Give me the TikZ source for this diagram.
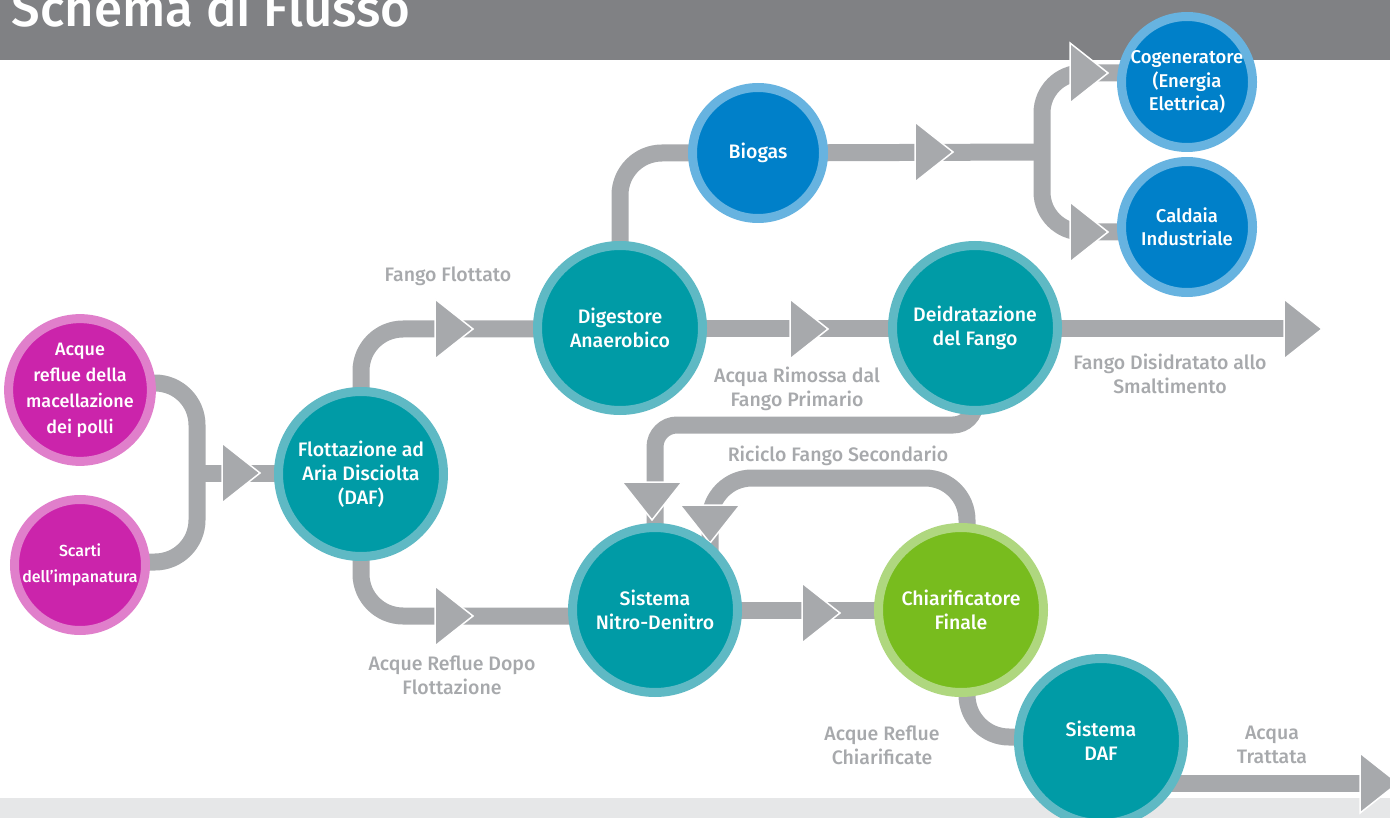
\documentclass[tikz,border=0pt]{standalone}
\usepackage{fontspec}
\setmainfont{Fira Sans}[BoldFont={Fira Sans Medium}]
\usetikzlibrary{backgrounds,positioning}

\definecolor{pipegray}{HTML}{A7A9AC}
\definecolor{headgray}{HTML}{808184}
\definecolor{bandgray}{HTML}{E6E7E8}
\definecolor{pinkin}{HTML}{CB24AB}
\definecolor{pinkring}{HTML}{E07FCB}
\definecolor{tealin}{HTML}{009BA6}
\definecolor{tealring}{HTML}{5FB9C4}
\definecolor{bluein}{HTML}{0080C9}
\definecolor{bluering}{HTML}{67B3E0}
\definecolor{greenin}{HTML}{78BC1E}
\definecolor{greenring}{HTML}{AFD77F}

\tikzset{
  stage/.style={circle, line width=9pt, inner sep=0pt, align=center, text=white,
    font=\bfseries\fontsize{19.5}{24}\selectfont},
  small/.style={stage, minimum size=131pt},
  big/.style={stage, minimum size=165pt},
  source/.style={small, fill=pinkin, draw=pinkring},
  proc/.style={big, fill=tealin, draw=tealring},
  energy/.style={small, fill=bluein, draw=bluering},
  clarif/.style={big, fill=greenin, draw=greenring},
  pipe/.style={draw=pipegray, line width=17pt, rounded corners=42pt},
  lbl/.style={text=pipegray, align=center, font=\bfseries\fontsize{19.5}{24}\selectfont},
  flowtri/.pic={\fill[pipegray, draw=white, line width=1.5pt] (-19,-30) -- (19,0) -- (-19,30) -- cycle;}
}

\begin{document}
\begin{tikzpicture}[x=1pt, y=-1pt]
  \useasboundingbox (0,0) rectangle (1390,818);

  % Define nodes
  \node[source, font=\bfseries\fontsize{18}{26}\selectfont] (acque) at (80,390) {Acque\\reflue della\\macellazione\\dei polli};
  \node[source, font=\bfseries\fontsize{16}{26}\selectfont] (scarti) at (80,565) {Scarti\\dell’impanatura};
  \node[proc]    (daf)     at (361,474)  {Flottazione ad\\Aria Disciolta\\(DAF)};
  \node[proc]    (digest)  at (620,328)  {Digestore\\Anaerobico};
  \node[energy]  (biogas)  at (758,153)  {Biogas};
  \node[energy, font=\bfseries\fontsize{18.5}{23.5}\selectfont] (cogen) at (1187,82) {Cogeneratore\\(Energia\\Elettrica)};
  \node[energy, font=\bfseries\fontsize{18.5}{23.5}\selectfont] (caldaia) at (1187,227) {Caldaia\\Industriale};
  \node[proc]    (deid)    at (975,328)  {Deidratazione\\del Fango};
  \node[proc]    (nitro)   at (655,610)  {Sistema\\Nitro-Denitro};
  \node[clarif]  (chiar)   at (961,610)  {Chiarificatore\\Finale};
  \node[proc]    (sdaf)    at (1101,741) {Sistema\\DAF};

  % Labels
  \node[lbl] (lflott)  at (448,276)  {Fango Flottato};
  \node[lbl] (lrimos)  at (797,389)  {Acqua Rimossa dal\\Fango Primario};
  \node[lbl] (lsmalt)  at (1170,374) {Fango Disidratato allo\\Smaltimento};
  \node[lbl] (lricic)  at (838,456)  {Riciclo Fango Secondario};
  \node[lbl] (ldopo)   at (452,675)  {Acque Reflue Dopo\\Flottazione};
  \node[lbl] (lchiar)  at (882,745)  {Acque Reflue\\Chiarificate};
  \node[lbl] (ltratt)  at (1272,745) {Acqua\\Trattata};

  \coordinate (merge)    at (197,473);
  \coordinate (fork)     at (1042,152);
  \coordinate (smaltout) at (1290,329);
  \coordinate (acquaout) at (1365,783);

  \begin{scope}[on background layer]
    % Header and footer band
    \fill[headgray] (0,0) rectangle (1390,60);
    \fill[bandgray] (0,798) rectangle (1390,818);
    \node[anchor=base west, text=white, font=\bfseries\fontsize{51}{56}\selectfont] (title) at (8,27) {Schema di Flusso};

    % Connect the nodes
    \draw[pipe] (acque.center |- 0,383) -| (merge) |- (scarti.center |- 0,562);
    \draw[pipe] (merge) -- (daf.center |- merge);
    \draw[pipe] (daf.center) |- (digest.center |- 0,329);
    \draw[pipe] (daf.center) |- (nitro.center |- 0,616);
    \draw[pipe] (digest.center) |- (biogas.center);
    \draw[pipe] (biogas.center) -- (fork);
    \draw[pipe, rounded corners=40pt] (cogen.center |- 0,73) -| (fork) |- (caldaia.center |- 0,232);
    \draw[pipe] (digest.center |- 0,329) -- (deid.center |- 0,329);
    \draw[pipe] (deid.center |- 0,329) -- (smaltout);
    \draw[pipe, rounded corners=22pt] (deid.center) |- (nitro.center |- 0,425) -- (nitro.center);
    \draw[pipe] ([xshift=6pt]chiar.center) |- (710,478) -- (nitro.center -| 710,0);
    \draw[pipe] (nitro.center) -- (chiar.center);
    \draw[pipe] ([xshift=6pt]chiar.center) |- (sdaf.center |- 0,737);
    \draw[pipe] (sdaf.center |- 0,783) -- (acquaout);

    % Arrow heads
    \pic at (241,473) {flowtri};
    \pic at (454,329) {flowtri};
    \pic at (454,616) {flowtri};
    \pic at (934,152) {flowtri};
    \pic at (1089,73) {flowtri};
    \pic at (1089,232) {flowtri};
    \pic at (809,329) {flowtri};
    \pic at (1303,329) {flowtri};
    \pic[rotate=-90] at (652,501) {flowtri};
    \pic[rotate=-90] at (710,524) {flowtri};
    \pic at (821,613) {flowtri};
    \pic at (1379,783) {flowtri};
  \end{scope}
\end{tikzpicture}
\end{document}
